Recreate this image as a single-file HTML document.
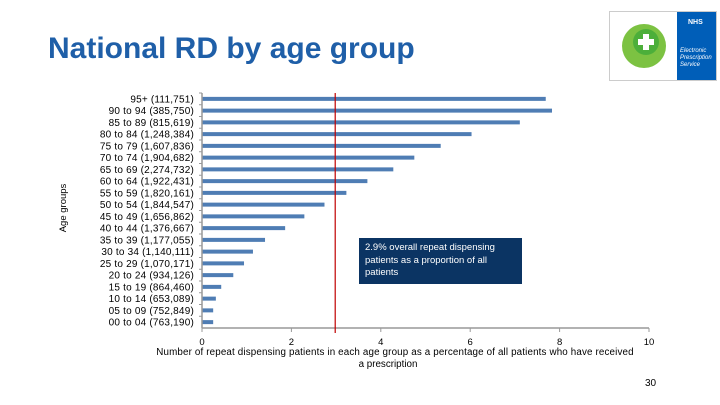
<!DOCTYPE html>
<html><head><meta charset="utf-8"><style>
body{margin:0;width:720px;height:405px;background:#fff;font-family:"Liberation Sans",sans-serif;position:relative;overflow:hidden}
.t{position:absolute}
</style></head><body>
<div class="t" style="left:48px;top:32px;font-size:30px;font-weight:bold;color:#1f5fa8;letter-spacing:0px">National RD by age group</div>
<div class="t" style="left:609px;top:11px;width:106px;height:68px;border:1px solid #ccc;background:#fff">
 <svg width="106" height="68"><circle cx="34" cy="34" r="22" fill="#7cc242"/><circle cx="36" cy="30" r="13" fill="#4caf3a"/><rect x="33" y="22" width="6" height="16" fill="#fff"/><rect x="28" y="27" width="16" height="6" fill="#fff"/>
 <rect x="67" y="0" width="39" height="68" fill="#005eb8"/><text x="78" y="12" font-size="7" fill="#fff" font-weight="bold">NHS</text><text x="70" y="40" font-size="6" fill="#fff" font-style="italic">Electronic</text><text x="70" y="47" font-size="6" fill="#fff" font-style="italic">Prescription</text><text x="70" y="54" font-size="6" fill="#fff" font-style="italic">Service</text></svg>
</div>
<div class="t" style="left:645px;top:378px;font-size:10px;color:#000">30</div>
<svg id="c" class="t" style="left:0;top:0" width="720" height="405"></svg>
<div class="t" style="left:359px;top:238px;width:151px;height:38px;padding:4px 6px;background:#0b3463;color:#fff;font-size:9.5px;line-height:12.5px">2.9% overall repeat dispensing patients as a proportion of all patients</div>
<script>
const categories=["95+ (111,751)","90 to 94 (385,750)","85 to 89 (815,619)","80 to 84 (1,248,384)","75 to 79 (1,607,836)","70 to 74 (1,904,682)","65 to 69 (2,274,732)","60 to 64 (1,922,431)","55 to 59 (1,820,161)","50 to 54 (1,844,547)","45 to 49 (1,656,862)","40 to 44 (1,376,667)","35 to 39 (1,177,055)","30 to 34 (1,140,111)","25 to 29 (1,070,171)","20 to 24 (934,126)","15 to 19 (864,460)","10 to 14 (653,089)","05 to 09 (752,849)","00 to 04 (763,190)"];
const values=[7.69,7.83,7.11,6.03,5.34,4.75,4.28,3.70,3.23,2.74,2.29,1.86,1.41,1.14,0.94,0.70,0.43,0.31,0.25,0.25];
const xTicks=[0,2,4,6,8,10];
const overall=[2.98];
const NS="http://www.w3.org/2000/svg",svg=document.getElementById('c');
const x0=202,x1=649,yTop=93,yBot=328;
const X=v=>x0+(x1-x0)*v/10;
const step=(yBot-yTop)/categories.length;
const Y=i=>yTop+step*(i+0.5);
function mk(t,a,txt){const e=document.createElementNS(NS,t);for(const k in a)e.setAttribute(k,a[k]);if(txt!=null)e.textContent=txt;svg.appendChild(e);return e;}
categories.forEach((c,i)=>{
 const r=mk('rect',{x:x0,y:Y(i)-2,width:X(values[i])-x0,height:4,fill:'#4f7db4'});
 
 
 const t=mk('text',{x:194,y:Y(i)+3.5,'text-anchor':'end','font-size':'10',fill:'#000','letter-spacing':'0.2'},c);
 
 
 const tk=mk('line',{x1:x0-3,x2:x0,y1:yTop+step*i,y2:yTop+step*i,stroke:'#999'});
 
 
});
const ya=mk('line',{x1:x0,x2:x0,y1:yTop,y2:yBot,stroke:'#999','stroke-width':1.5});


const xa=mk('line',{x1:x0,x2:x1,y1:yBot,y2:yBot,stroke:'#999','stroke-width':1.5});


xTicks.forEach(v=>{
 const l=mk('line',{x1:X(v),x2:X(v),y1:yBot,y2:yBot+4,stroke:'#999'});
 
 
 const t=mk('text',{x:X(v),y:yBot+17,'text-anchor':'middle','font-size':'9.5',fill:'#000'},v);
 
 
});
const rl=mk('line',{x1:X(overall[0]),x2:X(overall[0]),y1:yTop,y2:yBot+5,stroke:'#c00000','stroke-width':1.2});


const xt1=mk('text',{x:395,y:355,'text-anchor':'middle','font-size':'9.8',fill:'#000','letter-spacing':'0.15'},'Number of repeat dispensing patients in each age group as a percentage of all patients who have received');


const xt2=mk('text',{x:388,y:367,'text-anchor':'middle','font-size':'9.8',fill:'#000'},'a prescription');


const yt=mk('text',{x:0,y:0,'text-anchor':'middle','font-size':'9.5',fill:'#000',transform:'translate(66,208) rotate(-90)'},'Age groups');


</script>
</body></html>
